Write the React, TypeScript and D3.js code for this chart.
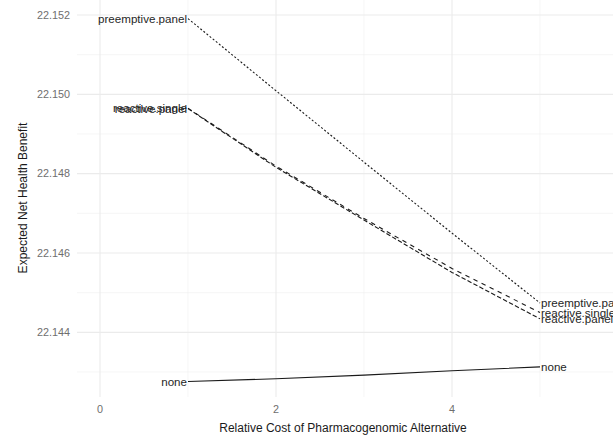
import React from 'react';
import * as d3 from 'd3';

const costs = [1, 2, 3, 4, 5];
const seriesNames = ['none', 'preemptive.panel', 'reactive.panel', 'reactive.single'];
const noneValues = [22.14276, 22.14283, 22.14292, 22.14303, 22.14313];
const preemptivePanelValues = [22.15191, 22.15009, 22.14829, 22.1465, 22.14474];
const reactivePanelValues = [22.14964, 22.14816, 22.14683, 22.14551, 22.14434];
const reactiveSingleValues = [22.14965, 22.14819, 22.14687, 22.14561, 22.1445];
const xTicks = [0, 2, 4];
const xMinorTicks = [1, 3, 5];
const yTicks = [22.144, 22.146, 22.148, 22.15, 22.152];
const yMinorTicks = [22.143, 22.145, 22.147, 22.149, 22.151];

const width = 613;
const height = 439;
const font = 'Liberation Sans, Arial, Helvetica, sans-serif';

const dashes: Record<string, string | undefined> = {
  none: undefined,
  'preemptive.panel': '2 2',
  'reactive.panel': '4.5 2.2',
  'reactive.single': '4.5 4.5',
};

export default function App() {
  const panel = { left: 77, right: width, top: 0, bottom: 397 };

  const x = d3.scaleLinear().domain([0, 5]).range([100, 540]);
  const y = d3.scaleLinear().domain([22.143, 22.152]).range([372, 15]);

  const valuesBySeries: Record<string, number[]> = {
    none: noneValues,
    'preemptive.panel': preemptivePanelValues,
    'reactive.panel': reactivePanelValues,
    'reactive.single': reactiveSingleValues,
  };

  const line = d3
    .line<[number, number]>()
    .x((d) => x(d[0]))
    .y((d) => y(d[1]));

  return (
    <svg
      width={width}
      height={height}
      style={{ position: 'absolute', left: 0, top: 0, background: '#fff' }}
      fontFamily={font}
    >
      {/* grid */}
      {yMinorTicks.map((t) => (
        <line key={'ym' + t} x1={panel.left} x2={panel.right} y1={y(t)} y2={y(t)} stroke="#f0f0f0" strokeWidth={0.6} />
      ))}
      {xMinorTicks.map((t) => (
        <line key={'xm' + t} x1={x(t)} x2={x(t)} y1={panel.top} y2={panel.bottom} stroke="#f0f0f0" strokeWidth={0.6} />
      ))}
      {yTicks.map((t) => (
        <line key={'y' + t} x1={panel.left} x2={panel.right} y1={y(t)} y2={y(t)} stroke="#ebebeb" strokeWidth={1.1} />
      ))}
      {xTicks.map((t) => (
        <line key={'x' + t} x1={x(t)} x2={x(t)} y1={panel.top} y2={panel.bottom} stroke="#ebebeb" strokeWidth={1.1} />
      ))}

      {/* lines */}
      {seriesNames.map((name) => {
        const pts = costs.map((c, i) => [c, valuesBySeries[name][i]] as [number, number]);
        return (
          <path
            key={name}
            d={line(pts) || ''}
            fill="none"
            stroke="#1a1a1a"
            strokeWidth={1.1}
            strokeDasharray={dashes[name]}
          />
        );
      })}

      {/* direct labels */}
      {seriesNames.map((name) => {
        const vals = valuesBySeries[name];
        return (
          <g key={'lab' + name} fontSize={11.6} fill="#262626">
            <text x={x(costs[0]) - 1} y={y(vals[0])} dy="0.35em" textAnchor="end">
              {name}
            </text>
            <text x={x(costs[costs.length - 1]) + 1} y={y(vals[vals.length - 1])} dy="0.35em" textAnchor="start">
              {name}
            </text>
          </g>
        );
      })}

      {/* axes text */}
      {yTicks.map((t) => (
        <text key={'yl' + t} x={70} y={y(t)} dy="0.35em" textAnchor="end" fontSize={10.8} fill="#6e6e6e">
          {d3.format('.3f')(t)}
        </text>
      ))}
      {xTicks.map((t) => (
        <text key={'xl' + t} x={x(t)} y={413} textAnchor="middle" fontSize={10.8} fill="#6e6e6e">
          {t}
        </text>
      ))}
      <text x={343} y={432} textAnchor="middle" fontSize={12} fill="#1a1a1a">
        Relative Cost of Pharmacogenomic Alternative
      </text>
      <text
        transform={`translate(27,198) rotate(-90)`}
        textAnchor="middle"
        fontSize={12}
        fill="#1a1a1a"
      >
        Expected Net Health Benefit
      </text>
    </svg>
  );
}
